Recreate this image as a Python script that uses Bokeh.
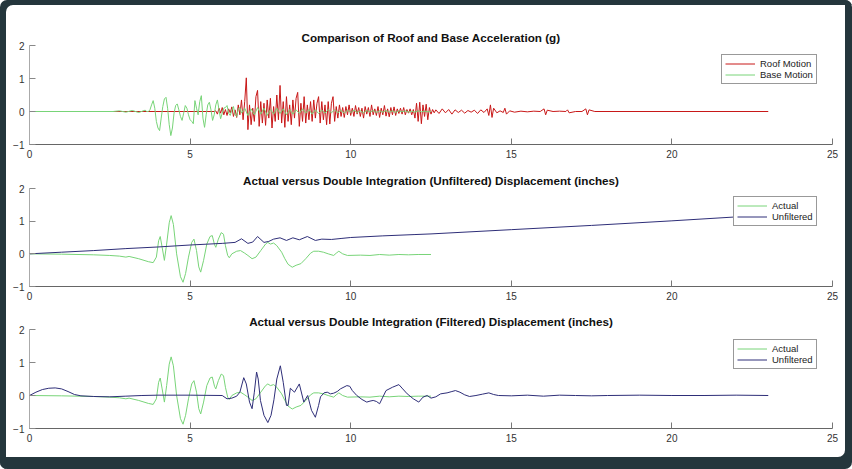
import numpy as np
from bokeh.plotting import figure
from bokeh.layouts import column
from bokeh.models import FixedTicker
from bokeh.embed import file_html
from bokeh.resources import INLINE

# ---------------- data ----------------
# roof acceleration (g): quiet start, densely sampled strong part, sparse tail
roof_start = [(0.0, 0.0), (5.75, 0.0)]
roof_dense_t0, roof_dense_dt = 5.80, 0.05
roof_dense = [
    0.02, -0.08, 0.10, -0.05, 0.12, -0.10, 0.06, -0.12, 0.08, -0.04,
    0.14, -0.15, 0.05, -0.18, 0.20, -0.10, 0.35, -0.25, 0.30, 1.02,
    -0.55, 0.20, -0.40, 0.10, -0.30, 0.45, 0.64, -0.45, 0.30, -0.35,
    0.25, -0.42, 0.35, -0.20, 0.40, -0.50, 0.15, -0.30, 0.50, -0.25,
    0.79, -0.35, 0.30, -0.48, 0.45, -0.30, 0.20, -0.40, 0.35, -0.20,
    0.40, 0.58, -0.45, 0.25, -0.30, 0.45, -0.35, 0.20, -0.25, 0.30,
    -0.30, 0.35, -0.20, 0.25, 0.45, -0.35, 0.30, -0.25, 0.20, -0.40,
    0.30, -0.38, 0.25, 0.45, -0.30, 0.15, -0.20, 0.20, -0.15, 0.12,
    -0.18, 0.15, -0.10, 0.20, -0.12, 0.10, -0.15, 0.18, -0.08, 0.12,
    -0.15, 0.10, -0.20, 0.15, -0.08, 0.12, -0.15, 0.20, -0.10, 0.08,
    -0.12, 0.15, -0.18, 0.10, -0.10, 0.18, -0.14, 0.08, -0.16, 0.12,
    -0.10, 0.14, -0.12, 0.08, -0.06, 0.10, -0.08, 0.12, -0.10, 0.06,
    -0.05, 0.08, -0.10, 0.06, -0.20, 0.25, -0.30, 0.28, -0.37, 0.20,
    -0.15, 0.22, -0.25, 0.12, -0.08, 0.06, -0.04,
]
roof_tail = [
    (12.65, 0.05), (12.75, -0.06), (12.85, 0.08), (12.95, -0.04), (13.05, 0.06),
    (13.15, -0.08), (13.25, 0.05), (13.35, -0.03), (13.45, 0.04), (13.55, -0.05),
    (13.65, 0.03), (13.75, -0.02), (13.85, 0.04), (13.95, -0.06), (14.05, 0.05),
    (14.15, -0.03), (14.25, 0.08), (14.30, -0.12), (14.35, 0.20), (14.40, -0.18),
    (14.45, 0.10), (14.55, -0.04), (14.65, 0.02), (14.75, -0.03), (14.80, 0.10),
    (14.85, -0.08), (14.95, 0.02), (15.1, -0.02), (15.3, 0.01), (15.5, -0.01),
    (15.7, 0.01), (15.9, 0.0), (16.02, 0.08), (16.07, -0.10), (16.12, 0.04),
    (16.3, 0.0), (16.5, 0.01), (16.7, 0.0), (16.75, 0.05), (16.8, -0.04),
    (17.0, 0.0), (17.2, 0.0), (17.32, 0.08), (17.37, -0.10), (17.42, 0.05),
    (17.6, 0.0), (23.0, 0.0),
]

# base acceleration (g)
base_start = [(0.0, 0.0), (2.6, 0.0), (2.8, 0.02), (3.0, -0.02), (3.2, 0.03),
              (3.4, -0.03), (3.6, 0.04), (3.65, 0.0)]
base_dense_t0, base_dense_dt = 3.70, 0.05
base_dense = [
    0.00, 0.05, 0.20, 0.33, 0.10, -0.30, -0.50, -0.58, -0.20, 0.15,
    0.38, 0.43, 0.10, -0.40, -0.73, -0.50, -0.05, 0.18, 0.23, 0.05,
    -0.15, -0.27, -0.05, 0.18, 0.10, -0.10, -0.25, -0.30, -0.37, 0.33,
    0.10, -0.10, 0.30, 0.48, -0.20, -0.48, -0.10, 0.20, 0.28, 0.05,
    -0.27, -0.10, 0.20, 0.35, 0.05, -0.22, -0.05, 0.10, 0.12, 0.18,
    -0.05, -0.12, 0.05, 0.15, -0.10, -0.15, 0.08, 0.12, -0.05,
]
base_late_t0, base_late_dt = 6.70, 0.10
base_late = [
    0.10, -0.12, 0.08, -0.10, 0.12, -0.08, 0.10, -0.12, 0.06, -0.08,
    0.10, -0.06, 0.08, -0.10, 0.06, -0.08, 0.05, -0.06, 0.08, -0.05,
    0.06, -0.08, 0.05, -0.06, 0.04, -0.05, 0.06, -0.04, 0.05, -0.04,
    0.03, -0.05, 0.04, -0.03, 0.04, -0.03, 0.02, -0.04, 0.03, -0.02,
    0.03, -0.03, 0.02, -0.02, 0.03, -0.02, 0.02, -0.03, 0.02, -0.01,
    0.02, -0.02, 0.01, -0.02, 0.02, -0.01, 0.01, -0.01, 0.0,
]

# actual displacement (inches)
actual = [
    (0.0, 0.0), (1.0, -0.01), (2.0, -0.03), (2.5, -0.05), (2.8, -0.07), (3.0, -0.1),
    (3.1, -0.08), (3.4, -0.15), (3.7, -0.24), (3.85, -0.27), (3.95, -0.1), (4.02, 0.4),
    (4.07, 0.53), (4.13, 0.2), (4.2, -0.2), (4.27, 0.3), (4.35, 0.95), (4.41, 1.17),
    (4.48, 0.9), (4.58, 0.0), (4.7, -0.7), (4.78, -0.87), (4.86, -0.6), (4.95, -0.1),
    (5.05, 0.35), (5.12, 0.45), (5.2, 0.1), (5.27, -0.4), (5.33, -0.56), (5.42, -0.2),
    (5.52, 0.3), (5.62, 0.53), (5.69, 0.56), (5.76, 0.28), (5.8, 0.2), (5.88, 0.45),
    (5.97, 0.65), (6.04, 0.6), (6.1, 0.25), (6.17, -0.05), (6.22, -0.12), (6.3, 0.0),
    (6.45, 0.08), (6.57, 0.1), (6.7, 0.02), (6.8, -0.05), (6.93, -0.15), (7.05, -0.1),
    (7.2, 0.1), (7.35, 0.3), (7.42, 0.35), (7.5, 0.3), (7.6, 0.33), (7.7, 0.25),
    (7.85, 0.05), (7.95, -0.15), (8.05, -0.32), (8.18, -0.41), (8.3, -0.35), (8.45, -0.3),
    (8.6, -0.15), (8.75, 0.02), (8.85, 0.08), (9.0, 0.08), (9.15, 0.05), (9.3, 0.0),
    (9.47, -0.05), (9.55, 0.02), (9.63, 0.08), (9.75, 0.0), (9.9, -0.05), (10.3, -0.04),
    (10.6, -0.05), (10.9, -0.02), (11.2, -0.04), (11.5, -0.02), (11.8, -0.03),
    (12.1, -0.02), (12.5, -0.02),
]

# double integration, unfiltered (inches)
unfiltered = [
    (0.0, 0.0), (1.0, 0.05), (2.0, 0.1), (3.0, 0.16), (4.0, 0.21), (5.0, 0.27),
    (6.0, 0.32), (6.4, 0.35), (6.6, 0.46), (6.8, 0.32), (6.95, 0.36), (7.1, 0.53),
    (7.3, 0.35), (7.45, 0.38), (7.6, 0.45), (7.8, 0.49), (8.0, 0.41), (8.2, 0.49),
    (8.4, 0.43), (8.65, 0.53), (8.9, 0.41), (9.1, 0.45), (9.4, 0.44), (9.7, 0.47),
    (10.0, 0.5), (11.0, 0.55), (12.0, 0.59), (12.5, 0.61), (15.0, 0.74), (17.5, 0.87),
    (20.0, 1.01), (22.0, 1.13), (23.0, 1.19),
]

# double integration, filtered (inches)
filtered = [
    (0.0, 0.0), (0.2, 0.1), (0.4, 0.18), (0.6, 0.22), (0.8, 0.23), (1.0, 0.2),
    (1.2, 0.12), (1.4, 0.03), (1.6, -0.01), (2.0, -0.03), (2.5, -0.04), (3.0, -0.02),
    (3.5, 0.0), (4.0, 0.01), (5.0, 0.01), (6.0, 0.0), (6.15, -0.1), (6.3, -0.08),
    (6.45, -0.02), (6.55, 0.1), (6.67, 0.54), (6.75, 0.35), (6.85, -0.2), (6.93, -0.4),
    (7.0, 0.1), (7.07, 0.71), (7.12, 0.5), (7.19, -0.15), (7.3, -0.6), (7.42, -0.82),
    (7.52, -0.6), (7.61, -0.13), (7.7, 0.5), (7.81, 0.9), (7.9, 0.4), (8.0, -0.3),
    (8.05, -0.3), (8.12, 0.22), (8.25, 0.1), (8.4, 0.35), (8.54, -0.2), (8.66, 0.0),
    (8.78, -0.45), (8.9, -0.66), (9.0, -0.3), (9.06, -0.04), (9.17, 0.08), (9.27, 0.1),
    (9.37, 0.05), (9.47, 0.07), (9.58, 0.12), (9.68, 0.2), (9.88, 0.3), (9.97, 0.28),
    (10.05, 0.15), (10.19, 0.0), (10.35, -0.12), (10.5, -0.2), (10.6, -0.17),
    (10.7, -0.15), (10.8, -0.18), (10.9, -0.25), (11.0, -0.05), (11.1, 0.15),
    (11.3, 0.25), (11.5, 0.33), (11.62, 0.2), (11.76, 0.05), (11.95, -0.1),
    (12.12, -0.2), (12.25, -0.05), (12.38, 0.0), (12.5, -0.08), (12.65, -0.04),
    (12.8, 0.05), (13.0, 0.08), (13.15, 0.12), (13.26, 0.15), (13.4, 0.1),
    (13.55, 0.02), (13.7, -0.03), (13.9, 0.0), (14.1, 0.04), (14.3, 0.08),
    (14.45, 0.03), (14.6, 0.0), (15.0, -0.01), (15.5, 0.01), (16.0, -0.02),
    (16.5, 0.01), (17.0, 0.0), (17.5, -0.01), (18.0, 0.0), (19.0, 0.01), (20.0, 0.0),
    (21.0, 0.0), (22.0, 0.01), (23.0, 0.0),
]

titles = [
    "Comparison of Roof and Base Acceleration (g)",
    "Actual versus Double Integration (Unfiltered) Displacement (inches)",
    "Actual versus Double Integration (Filtered) Displacement (inches)",
]
x_ticks = [0, 5, 10, 15, 20, 25]
y_ticks = [-1, 0, 1, 2]

RED = "#c81818"
GREEN = "#78d478"
NAVY = "#2e2e78"
FRAME = "#24363c"
FONT = "Liberation Sans"


def pairs(pts):
    return [p[0] for p in pts], [p[1] for p in pts]


def sampled(t0, dt, vals):
    return list(t0 + dt * np.arange(len(vals))), list(vals)


def panel(title, height, top, bottom):
    p = figure(width=852, height=height, x_range=(0, 25), y_range=(-1, 2),
               title=title, output_backend="svg", toolbar_location=None,
               min_border_left=29, min_border_right=20,
               min_border_top=top, min_border_bottom=bottom)
    # transparent so the page frame drawn behind shows through
    p.border_fill_color = None
    p.background_fill_color = None
    p.title.align = "center"
    p.title.text_font = FONT
    p.title.text_font_size = "11.7px"
    p.title.text_font_style = "bold"
    p.title.text_color = "#111111"
    p.title.standoff = 3
    p.grid.visible = False
    p.outline_line_color = None
    p.xaxis.ticker = FixedTicker(ticks=x_ticks)
    p.yaxis.ticker = FixedTicker(ticks=y_ticks)
    for ax in p.axis:
        ax.major_tick_in = 6
        ax.major_tick_out = 0
        ax.minor_tick_line_color = None
        ax.major_label_text_font = FONT
        ax.major_label_text_font_size = "10px"
        ax.major_label_text_color = "#333333"
    p.xaxis.axis_line_color = "#666666"
    p.xaxis.major_tick_line_color = "#777777"
    p.yaxis.axis_line_color = "#aaaaaa"
    p.yaxis.major_tick_line_color = "#888888"
    p.xaxis.major_label_standoff = 5
    p.yaxis.major_label_standoff = 5
    return p


def style_legend(p, loc):
    lg = p.legend[0]
    lg.location = loc
    lg.border_line_color = "#333333"
    lg.border_line_width = 1
    lg.background_fill_color = "white"
    lg.background_fill_alpha = 1
    lg.label_text_font = FONT
    lg.label_text_font_size = "9.5px"
    lg.label_text_color = "#222222"
    lg.glyph_width = 30
    lg.glyph_height = 11
    lg.label_height = 11
    lg.label_standoff = 5
    lg.padding = 3
    lg.spacing = 0
    lg.margin = 0


# ---------------- panel 1: accelerations ----------------
p1 = panel(titles[0], 166, 45, 22)
rt0, rv0 = pairs(roof_start)
rt1, rv1 = sampled(roof_dense_t0, roof_dense_dt, roof_dense)
rt2, rv2 = pairs(roof_tail)
bt0, bv0 = pairs(base_start)
bt1, bv1 = sampled(base_dense_t0, base_dense_dt, base_dense)
bt2, bv2 = sampled(base_late_t0, base_late_dt, base_late)
p1.line(rt0 + rt1 + rt2, rv0 + rv1 + rv2, color=RED, line_width=1, legend_label="Roof Motion")
p1.line(bt0 + bt1 + bt2, bv0 + bv1 + bv2, color=GREEN, line_width=1, legend_label="Base Motion")
style_legend(p1, (692, 60))

# ---------------- panel 2: unfiltered ----------------
p2 = panel(titles[1], 143, 22, 23)
at, av = pairs(actual)
ut, uv = pairs(unfiltered)
p2.line(at, av, color=GREEN, line_width=1, legend_label="Actual")
p2.line(ut, uv, color=NAVY, line_width=1, legend_label="Unfiltered")
style_legend(p2, (704, 60))

# ---------------- panel 3: filtered ----------------
p3 = panel(titles[2], 160, 20, 41)
ft, fv = pairs(filtered)
p3.line(at, av, color=GREEN, line_width=1, legend_label="Actual")
p3.line(ft, fv, color=NAVY, line_width=1, legend_label="Unfiltered")
style_legend(p3, (704, 59))

# dark picture frame: inset shadows (left/top and right/bottom bands)
layout = column(p1, p2, p3, spacing=0,
                styles={"background-color": "white", "border-radius": "7px",
                        "box-shadow": f"inset 6px 5px 0 0 {FRAME}, inset -7px -12px 0 0 {FRAME}"})

open("out.html", "w").write(file_html(layout, INLINE))
